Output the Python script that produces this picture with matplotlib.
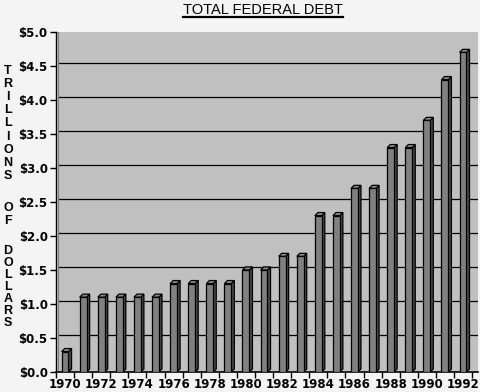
import matplotlib
matplotlib.use("Agg")
import matplotlib.pyplot as plt
from matplotlib.patches import Polygon, Rectangle
from matplotlib.lines import Line2D
import numpy as np

# ---- data ----
years = list(range(1970, 1993))
debt = [0.3, 1.1, 1.1, 1.1, 1.1, 1.1, 1.3, 1.3, 1.3, 1.3, 1.5, 1.5,
        1.7, 1.7, 2.3, 2.3, 2.7, 2.7, 3.3, 3.3, 3.7, 4.3, 4.7]
yticks = [0.0, 0.5, 1.0, 1.5, 2.0, 2.5, 3.0, 3.5, 4.0, 4.5, 5.0]
ytick_labels = ["$%.1f" % v for v in yticks]
xtick_years = years[::2]
title = "TOTAL FEDERAL DEBT"
ylabel_words = ["TRILLIONS", "OF", "DOLLARS"]

W, H = 480, 392
fig = plt.figure(figsize=(W / 100, H / 100), dpi=100, facecolor="#f4f4f4")
ax = fig.add_axes([56 / W, 20 / H, 422 / W, 340 / H])
ax.set_facecolor("#c0c0c0")

n = len(years)
xpos = np.arange(n)
ax.set_xlim(-0.5, n - 0.5 + 0.33)
ax.set_ylim(0, 5.0)

# depth of the 3D effect in data units
dx, dy = 0.17, 0.045
bw = 0.38

# back wall grid lines
for v in yticks[1:-1]:
    ax.plot([-0.5 + 0.12, n - 0.5 + 0.33], [v + dy, v + dy], color="black",
            lw=0.9, zorder=1, solid_capstyle="butt")

# left wall strip
ax.add_patch(Rectangle((-0.5, 0), 0.12, 5.0, facecolor="#d8d8d8",
                       edgecolor="#808080", lw=0.8, zorder=1.5))

for x, v in zip(xpos, debt):
    x0, x1 = x - bw / 2, x + bw / 2
    front = Rectangle((x0, 0), bw, v, facecolor="#808080", edgecolor="black",
                      lw=0.9, zorder=3)
    side = Polygon([(x1, 0), (x1 + dx, dy), (x1 + dx, v + dy), (x1, v)],
                   closed=True, facecolor="#4a4a4a", edgecolor="black",
                   lw=0.9, zorder=2.5)
    top = Polygon([(x0, v), (x0 + dx, v + dy), (x1 + dx, v + dy), (x1, v)],
                  closed=True, facecolor="#8c8c8c", edgecolor="black",
                  lw=0.9, zorder=2.5)
    ax.add_patch(side)
    ax.add_patch(top)
    ax.add_patch(front)

# axes styling
for s in ["top", "right"]:
    ax.spines[s].set_visible(False)
ax.spines["left"].set_color("black")
ax.spines["bottom"].set_color("black")
ax.spines["left"].set_linewidth(1.0)
ax.spines["bottom"].set_linewidth(1.2)

tick_font = dict(family="Liberation Sans Narrow", weight="bold", size=8.5)
ax.set_yticks(yticks)
ax.set_yticklabels(ytick_labels, fontdict=tick_font)
ax.tick_params(axis="y", direction="out", length=4, width=1, pad=2,
               colors="black")

ax.set_xticks([years.index(y) for y in xtick_years])
ax.set_xticklabels([str(y) for y in xtick_years], fontdict=tick_font)
ax.set_xticks(np.arange(n + 1) - 0.5, minor=True)
ax.tick_params(axis="x", which="major", length=0, pad=4)
ax.tick_params(axis="x", which="minor", direction="out", length=4, width=1)

# title with underline
t = fig.text(263 / W, 1 - 10.5 / H, title, ha="center", va="center",
             family="Liberation Sans", size=10.5, color="black")
fig.canvas.draw()
bb = t.get_window_extent()
uy = 1 - 17 / H
fig.add_artist(Line2D([bb.x0 / W, bb.x1 / W], [uy, uy], color="black",
                      lw=1.6, transform=fig.transFigure))

# vertical stacked y label
y = 70.5
step = 13.2
for wi, word in enumerate(ylabel_words):
    for ch in word:
        fig.text(8 / W, 1 - y / H, ch, ha="center", va="center",
                 family="Liberation Sans", weight="bold", size=9)
        y += step
    y += step * 1.4 if wi == 0 else step * 1.3
    if wi == 1:
        step = 12.0

fig.savefig("out.png", dpi=100, facecolor=fig.get_facecolor())
